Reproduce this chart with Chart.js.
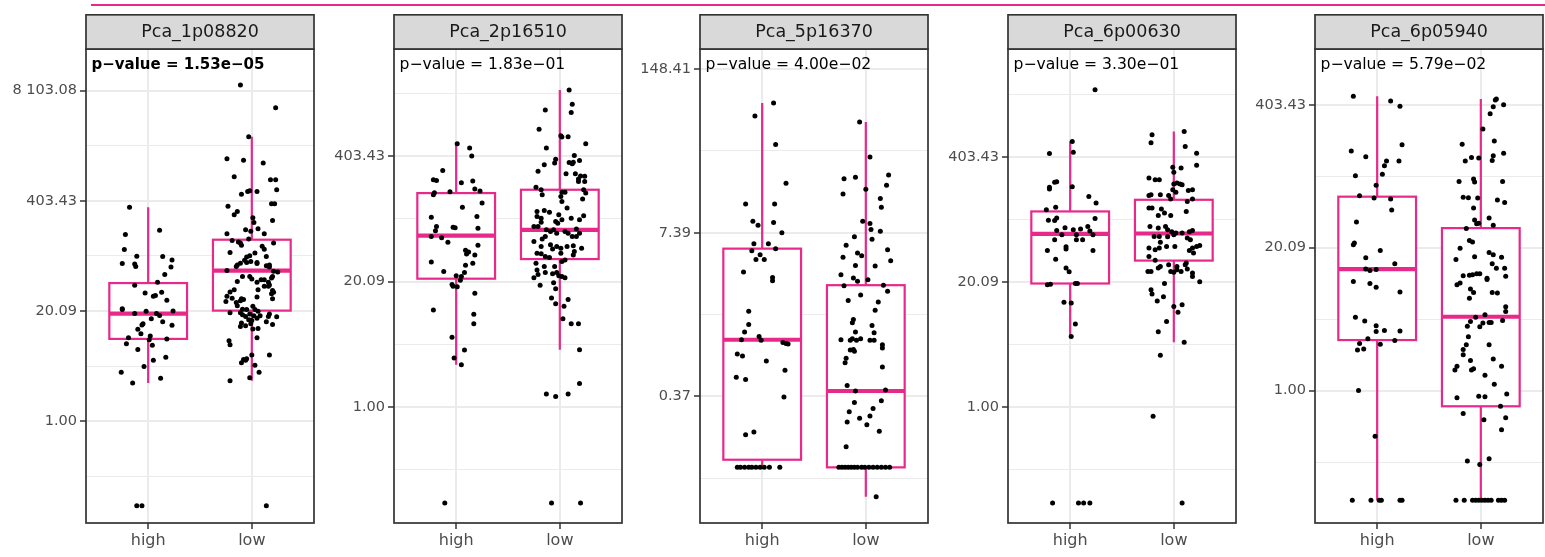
<!DOCTYPE html>
<html>
<head>
<meta charset="utf-8">
<script src="https://cdn.jsdelivr.net/npm/chart.js@4.4.1/dist/chart.umd.min.js"></script>
<style>
    html, body { margin: 0; padding: 0; background: #fff; overflow: hidden; }
    body { width: 1545px; height: 557px; position: relative; }
    #topLine { position: absolute; left: 91px; top: 3.5px; width: 1454px; height: 2.5px; background: #E7298A; }
    canvas.panel { position: absolute; top: 14px; }
</style>
</head>
<body>
<div id="topLine"></div>
<canvas id="panel0" class="panel" width="312" height="543" style="left:6px"></canvas>
<canvas id="panel1" class="panel" width="312" height="543" style="left:314px"></canvas>
<canvas id="panel2" class="panel" width="312" height="543" style="left:620px"></canvas>
<canvas id="panel3" class="panel" width="312" height="543" style="left:928px"></canvas>
<canvas id="panel4" class="panel" width="312" height="543" style="left:1235px"></canvas>
<script>
const groups = ['high', 'low'];
const genes = ['Pca_1p08820', 'Pca_2p16510', 'Pca_5p16370', 'Pca_6p00630', 'Pca_6p05940'];
const pValues = [1.53e-05, 1.83e-01, 4.00e-02, 3.30e-01, 5.79e-02];

// y axis is ln(expression); tick labels show exp(tick)
const majorTicks = [[0, 3, 6, 9], [0, 3, 6], [-1, 2, 5], [0, 3, 6], [0, 3, 6]];
const minorTicks = [[-1.5, 1.5, 4.5, 7.5], [-1.5, 1.5, 4.5, 7.5], [-2.5, 0.5, 3.5], [-1.5, 1.5, 4.5, 7.5], [-1.5, 1.5, 4.5]];
const yRanges = [[-2.77, 10.13], [-2.78, 8.57], [-3.32, 5.37], [-2.78, 8.60], [-2.78, 7.17]];

// box stats: [lower whisker, Q1, median, Q3, upper whisker]
const boxHigh = [
    [1.04, 2.24, 2.93, 3.76, 5.82],
    [1.01, 3.07, 4.10, 5.12, 6.30],
    [-2.30, -2.16, 0.04, 1.71, 4.38],
    [1.70, 2.97, 4.16, 4.70, 6.38],
    [-2.30, 1.06, 2.55, 4.07, 6.18]
];
const boxLow = [
    [1.10, 3.01, 4.10, 4.94, 7.74],
    [1.37, 3.54, 4.24, 5.20, 7.59],
    [-2.84, -2.30, -0.90, 1.04, 4.03],
    [1.56, 3.52, 4.17, 4.98, 6.62],
    [-2.30, -0.33, 1.55, 3.41, 6.12]
];

// jittered samples: [horizontal offset, ln value]
const pts1High = [[-0.18,5.82],[-0.22,5.08],[0.11,5.20],[-0.23,4.67],[-0.11,4.49],[-0.25,4.29],[-0.13,4.28],[-0.12,4.21],[0.14,4.48],[0.23,4.39],[0.22,4.20],[0.16,3.99],[0.09,3.78],[-0.13,3.70],[-0.03,3.49],[0.05,3.40],[0.07,3.42],[0.13,3.51],[0.18,3.29],[-0.25,3.06],[-0.25,3.04],[-0.13,2.93],[-0.02,2.99],[0.08,2.93],[0.11,2.88],[0.24,3.00],[0.03,2.79],[0.14,2.71],[0.23,2.61],[-0.05,2.65],[-0.06,2.62],[-0.10,2.50],[-0.07,2.38],[-0.19,2.27],[0.02,2.32],[0.01,2.22],[0.18,2.24],[-0.21,2.11],[0.04,2.07],[-0.10,1.95],[0.05,1.66],[0.17,1.74],[-0.04,1.49],[-0.26,1.33],[0.12,1.17],[-0.15,1.04],[-0.11,-2.30],[-0.06,-2.30]];
const pts1Low = [[-0.11,9.15],[0.23,8.53],[-0.03,7.74],[-0.24,7.14],[-0.08,7.10],[0.11,7.03],[-0.17,6.65],[0.18,6.57],[0.23,6.57],[0.24,6.30],[-0.04,6.25],[-0.02,6.27],[0.05,6.25],[-0.10,6.18],[0.19,5.92],[0.22,5.92],[-0.23,5.85],[-0.14,5.71],[-0.17,5.62],[0.01,5.54],[0.02,5.41],[0.20,5.46],[-0.24,5.10],[-0.19,4.92],[-0.13,4.88],[-0.10,4.79],[-0.11,4.85],[-0.06,5.21],[-0.01,5.17],[0.06,5.24],[0.12,5.10],[-0.03,4.96],[0.21,4.85],[0.10,4.76],[0.12,4.68],[-0.21,4.59],[0.03,4.58],[-0.02,4.50],[-0.05,4.47],[-0.07,4.38],[-0.05,4.32],[-0.01,4.35],[0.14,4.48],[-0.11,4.30],[-0.15,4.21],[-0.14,4.25],[0.05,4.29],[0.05,4.32],[0.14,4.23],[0.17,4.25],[0.17,4.20],[0.21,4.08],[0.25,4.06],[-0.24,4.10],[-0.09,3.94],[-0.02,3.94],[-0.14,3.80],[0.00,3.87],[0.05,3.78],[0.09,3.85],[0.12,3.85],[0.16,3.78],[0.17,3.71],[0.19,3.90],[0.20,3.94],[0.16,3.67],[0.12,3.67],[-0.17,3.58],[-0.21,3.52],[0.06,3.58],[0.20,3.56],[-0.24,3.40],[-0.25,3.26],[-0.19,3.35],[-0.11,3.28],[-0.15,3.23],[0.05,3.38],[0.20,3.33],[0.19,3.47],[0.21,3.51],[-0.08,3.31],[-0.10,3.33],[-0.14,3.14],[-0.09,3.05],[-0.05,3.04],[0.01,3.13],[0.03,3.04],[-0.21,2.95],[-0.11,2.95],[-0.09,2.90],[-0.06,2.85],[-0.02,2.92],[0.02,2.87],[0.08,2.87],[0.16,2.85],[0.24,2.84],[-0.10,2.67],[-0.06,2.60],[-0.11,2.58],[-0.03,2.76],[0.05,2.80],[0.00,2.74],[-0.01,2.65],[0.14,2.71],[0.20,2.63],[0.17,2.92],[0.06,2.99],[0.01,2.51],[0.06,2.52],[0.05,2.27],[-0.22,2.19],[-0.21,2.08],[0.17,1.80],[-0.08,1.68],[-0.05,1.70],[-0.06,1.66],[-0.10,1.59],[0.00,1.80],[0.03,1.52],[0.07,1.33],[-0.21,1.10],[-0.02,1.18],[0.14,-2.30]];
const pts2High = [[0.01,6.30],[0.13,6.20],[0.15,6.01],[-0.13,5.66],[-0.22,5.44],[-0.19,5.42],[0.05,5.37],[0.16,5.41],[0.18,5.22],[0.23,5.17],[-0.21,5.13],[-0.22,5.08],[-0.06,5.15],[0.25,4.88],[0.06,4.78],[0.20,4.56],[-0.24,4.54],[-0.03,4.30],[-0.01,4.29],[-0.19,4.32],[-0.20,4.22],[0.21,4.28],[-0.24,4.08],[-0.14,4.05],[-0.08,3.94],[0.21,3.87],[0.09,3.75],[0.12,3.71],[0.10,3.66],[0.18,3.64],[0.16,3.44],[0.09,3.39],[-0.24,3.47],[-0.12,3.24],[0.00,3.14],[0.05,3.12],[0.08,3.22],[-0.04,2.93],[-0.03,2.89],[0.01,2.88],[0.04,3.03],[0.18,2.72],[-0.22,2.32],[0.17,2.22],[0.17,1.99],[-0.04,1.67],[0.08,1.36],[-0.02,1.17],[0.05,1.01],[-0.11,-2.30]];
const pts2Low = [[0.09,7.59],[0.12,7.25],[0.11,7.05],[-0.14,7.11],[-0.20,6.65],[0.01,6.49],[0.02,6.46],[0.08,6.47],[-0.13,6.20],[0.25,6.30],[0.14,6.02],[-0.04,5.93],[-0.05,5.84],[-0.15,5.80],[0.09,5.85],[0.13,5.86],[0.12,5.82],[0.19,5.90],[-0.21,5.64],[0.15,5.58],[0.20,5.53],[0.24,5.52],[0.18,5.40],[0.24,5.40],[0.18,5.46],[0.06,5.58],[-0.23,5.26],[-0.18,5.20],[0.02,5.14],[0.05,5.14],[-0.17,5.08],[0.23,5.20],[0.25,5.12],[0.01,5.04],[0.02,4.92],[0.22,4.98],[0.07,4.76],[-0.22,4.68],[-0.15,4.70],[-0.10,4.66],[-0.22,4.56],[-0.18,4.52],[0.23,4.58],[0.19,4.48],[-0.01,4.60],[0.02,4.48],[0.11,4.52],[-0.18,4.42],[-0.04,4.44],[-0.02,4.40],[-0.25,4.32],[-0.21,4.32],[-0.13,4.24],[-0.09,4.20],[-0.06,4.24],[-0.03,4.16],[0.05,4.20],[0.08,4.16],[0.16,4.26],[0.19,4.16],[0.12,4.08],[0.16,4.08],[-0.25,3.96],[-0.17,4.02],[-0.14,4.08],[-0.18,3.84],[-0.09,3.88],[-0.07,3.78],[-0.03,3.84],[0.01,3.80],[0.07,3.84],[0.13,3.86],[0.14,3.72],[0.21,3.80],[-0.22,3.68],[-0.18,3.67],[-0.14,3.60],[-0.10,3.58],[0.01,3.68],[0.13,3.64],[0.05,3.52],[0.02,3.48],[-0.23,3.44],[-0.22,3.28],[-0.15,3.36],[-0.14,3.22],[-0.05,3.36],[-0.03,3.22],[0.02,3.12],[0.05,3.09],[-0.21,3.17],[-0.25,3.09],[-0.19,2.91],[-0.07,3.19],[-0.01,3.14],[-0.06,2.97],[-0.04,2.83],[-0.08,2.61],[-0.04,2.47],[0.04,2.41],[0.08,2.57],[0.03,2.11],[0.11,1.99],[0.18,1.99],[0.19,1.37],[0.19,0.56],[-0.13,0.31],[-0.04,0.25],[0.08,0.31],[-0.08,-2.30],[0.20,-2.30]];
const pts3High = [[0.11,4.38],[-0.07,4.14],[0.13,3.62],[0.23,2.91],[-0.16,2.53],[0.12,2.53],[-0.09,2.21],[-0.04,2.14],[0.11,2.19],[0.19,2.00],[-0.08,1.80],[0.06,1.80],[-0.10,1.67],[0.13,1.71],[-0.02,1.60],[-0.06,1.51],[0.02,1.51],[-0.18,1.28],[0.10,1.18],[0.10,1.12],[-0.13,0.56],[-0.13,0.32],[-0.17,0.18],[-0.20,0.04],[-0.03,0.10],[-0.01,0.03],[0.20,-0.01],[0.23,-0.03],[0.25,-0.04],[-0.24,-0.22],[-0.19,-0.26],[0.04,-0.35],[0.22,-0.52],[-0.25,-0.65],[-0.16,-0.69],[0.21,-1.01],[-0.16,-1.70],[-0.08,-1.65],[-0.24,-2.30],[-0.21,-2.30],[-0.17,-2.30],[-0.13,-2.30],[-0.10,-2.30],[-0.06,-2.30],[-0.02,-2.30],[0.02,-2.30],[0.07,-2.30],[0.17,-2.30]];
const pts3Low = [[-0.06,4.03],[0.04,3.39],[0.22,3.06],[0.20,2.87],[-0.21,2.99],[-0.10,3.02],[-0.22,2.71],[0.00,2.80],[0.14,2.63],[0.15,2.47],[-0.03,2.21],[0.04,2.17],[0.05,2.06],[0.14,2.03],[-0.11,1.93],[0.06,1.88],[-0.19,1.77],[-0.08,1.63],[-0.04,1.58],[0.21,1.69],[-0.22,1.55],[-0.10,1.40],[0.09,1.39],[0.24,1.49],[-0.24,1.23],[-0.12,1.17],[-0.08,1.11],[0.02,1.14],[-0.21,1.03],[0.17,1.04],[0.21,0.93],[-0.05,0.86],[-0.17,0.76],[0.12,0.73],[0.09,0.58],[-0.12,0.41],[-0.13,0.35],[0.06,0.30],[-0.10,0.18],[0.08,0.17],[-0.24,0.04],[-0.15,0.03],[-0.13,0.06],[-0.09,0.03],[-0.05,0.06],[0.04,0.03],[0.08,0.03],[0.16,-0.05],[0.16,-0.11],[-0.15,-0.15],[-0.12,-0.14],[-0.11,-0.17],[-0.19,-0.30],[-0.20,-0.38],[0.16,-0.46],[-0.18,-0.80],[-0.10,-0.90],[0.19,-0.88],[-0.11,-1.11],[0.15,-1.08],[0.07,-1.22],[0.04,-1.36],[-0.16,-1.28],[-0.18,-1.47],[-0.06,-1.40],[0.01,-1.52],[0.13,-1.64],[-0.19,-1.92],[-0.26,-2.30],[-0.23,-2.30],[-0.20,-2.30],[-0.17,-2.30],[-0.14,-2.30],[-0.11,-2.30],[-0.08,-2.30],[-0.04,-2.30],[-0.01,-2.30],[0.03,-2.30],[0.07,-2.30],[0.11,-2.30],[0.15,-2.30],[0.19,-2.30],[0.23,-2.30],[0.10,-2.84]];
const pts4High = [[0.24,7.62],[0.02,6.38],[-0.20,6.09],[0.03,6.12],[-0.15,5.40],[-0.13,5.41],[-0.20,5.28],[-0.20,5.24],[0.02,5.29],[0.18,5.06],[0.25,4.90],[-0.23,4.74],[-0.14,4.80],[-0.21,4.49],[-0.15,4.48],[-0.13,4.54],[0.24,4.53],[-0.05,4.31],[-0.13,4.24],[0.03,4.26],[0.10,4.28],[0.17,4.34],[0.19,4.23],[0.06,4.14],[-0.08,4.14],[0.22,4.14],[-0.15,4.02],[0.06,4.02],[0.12,4.02],[-0.22,3.76],[-0.04,3.85],[-0.04,3.80],[0.22,3.76],[-0.14,3.55],[-0.04,3.34],[-0.01,3.25],[-0.22,2.94],[-0.19,2.95],[0.05,2.97],[0.07,2.97],[-0.06,2.52],[0.01,2.50],[0.05,2.00],[0.01,1.70],[-0.17,-2.30],[0.08,-2.30],[0.13,-2.30],[0.19,-2.30]];
const pts4Low = [[0.10,6.62],[-0.21,6.54],[-0.22,6.35],[0.11,6.26],[0.22,6.10],[0.22,5.81],[-0.01,5.76],[0.00,5.64],[0.07,5.74],[-0.24,5.50],[-0.18,5.46],[-0.14,5.46],[0.00,5.36],[0.03,5.38],[0.06,5.36],[0.08,5.34],[0.18,5.22],[0.14,5.20],[0.02,5.16],[-0.01,5.22],[-0.24,5.08],[-0.22,5.10],[-0.13,5.10],[-0.05,5.08],[-0.03,5.00],[0.13,4.94],[0.18,5.00],[-0.24,4.78],[-0.21,4.78],[-0.12,4.76],[-0.09,4.66],[-0.15,4.60],[-0.03,4.60],[0.12,4.70],[-0.23,4.34],[-0.15,4.30],[-0.08,4.34],[-0.06,4.26],[-0.02,4.21],[0.02,4.18],[0.08,4.18],[0.15,4.21],[0.18,4.24],[-0.19,4.10],[-0.14,4.10],[-0.06,4.09],[0.00,4.14],[0.16,4.02],[0.13,4.06],[-0.13,3.96],[-0.07,3.86],[0.01,3.86],[-0.24,3.82],[-0.18,3.78],[-0.14,3.82],[0.18,3.82],[0.22,3.86],[0.25,3.88],[0.15,3.76],[0.19,3.70],[-0.24,3.62],[-0.18,3.53],[-0.05,3.42],[0.03,3.38],[0.11,3.42],[-0.15,3.34],[-0.13,3.38],[0.03,3.30],[0.13,3.32],[0.18,3.22],[0.12,3.46],[-0.25,3.26],[-0.22,3.26],[-0.03,3.26],[0.00,3.24],[0.07,3.26],[0.18,3.14],[0.25,3.01],[-0.09,2.97],[-0.22,2.82],[-0.21,2.72],[-0.10,2.65],[-0.16,2.55],[0.00,2.42],[0.08,2.46],[0.04,2.28],[-0.07,2.06],[-0.15,1.81],[0.10,1.56],[-0.13,1.25],[-0.20,-0.22],[0.08,-2.30]];
const pts5High = [[-0.23,6.18],[0.13,6.08],[0.22,5.97],[-0.25,5.03],[-0.11,4.91],[0.24,5.16],[0.07,4.72],[0.09,4.82],[0.21,4.82],[-0.21,4.51],[0.05,4.54],[-0.01,4.31],[-0.17,4.09],[-0.03,4.04],[0.13,4.02],[0.14,3.79],[-0.20,3.54],[-0.23,3.06],[-0.22,3.10],[0.03,2.94],[-0.11,2.79],[0.17,2.66],[-0.11,2.55],[-0.07,2.52],[-0.01,2.54],[-0.23,2.29],[-0.07,2.25],[-0.01,2.17],[0.22,2.07],[-0.21,1.54],[-0.12,1.46],[-0.01,1.36],[-0.01,1.24],[0.07,1.26],[0.22,1.25],[-0.17,0.99],[-0.09,1.09],[-0.19,0.85],[-0.13,0.87],[0.03,0.97],[0.17,1.05],[-0.18,0.00],[-0.02,-0.96],[-0.24,-2.30],[-0.06,-2.30],[0.02,-2.30],[0.04,-2.30],[0.22,-2.30],[0.24,-2.30]];
const pts5Low = [[0.15,6.12],[0.14,6.10],[0.12,5.96],[0.09,5.81],[0.22,6.00],[0.02,5.49],[-0.18,5.17],[0.13,5.24],[-0.09,4.89],[-0.15,4.82],[-0.02,4.88],[0.12,4.93],[0.11,4.83],[0.22,4.98],[-0.21,4.39],[-0.07,4.44],[-0.06,4.38],[0.21,4.39],[-0.17,4.06],[-0.12,4.05],[-0.03,4.04],[0.16,4.00],[0.23,3.95],[-0.07,3.83],[-0.06,3.58],[-0.04,3.50],[-0.02,3.51],[0.08,3.62],[0.12,3.47],[-0.14,3.40],[-0.11,3.15],[-0.08,3.12],[-0.20,2.99],[-0.24,2.75],[-0.06,2.81],[0.08,2.90],[0.12,2.85],[0.20,2.80],[0.11,2.66],[0.15,2.57],[0.23,2.57],[-0.17,2.41],[-0.08,2.43],[-0.04,2.45],[-0.01,2.45],[0.06,2.36],[0.24,2.40],[-0.11,2.42],[-0.23,2.22],[-0.20,2.26],[0.06,2.33],[-0.10,2.13],[-0.07,2.06],[0.11,2.06],[0.16,2.05],[-0.11,1.94],[0.24,1.76],[0.24,1.66],[-0.05,1.54],[-0.10,1.45],[-0.13,1.35],[0.04,1.59],[0.02,1.42],[-0.01,1.34],[0.08,1.43],[0.10,1.43],[0.21,1.47],[-0.12,1.13],[-0.14,0.96],[-0.17,0.86],[-0.17,0.75],[0.08,0.96],[-0.10,0.63],[0.12,0.66],[-0.23,0.51],[-0.25,0.43],[-0.09,0.43],[-0.07,0.46],[0.20,0.51],[0.04,0.32],[0.13,0.13],[-0.23,-0.15],[-0.02,-0.12],[0.04,-0.13],[0.25,-0.07],[0.19,-0.33],[-0.17,-0.48],[0.03,-0.61],[0.24,-0.57],[0.20,-0.82],[-0.13,-1.48],[-0.01,-1.55],[0.08,-1.43],[-0.24,-2.30],[-0.16,-2.30],[-0.08,-2.30],[-0.05,-2.30],[-0.02,-2.30],[0.01,-2.30],[0.04,-2.30],[0.07,-2.30],[0.10,-2.30],[0.17,-2.30],[0.20,-2.30],[0.23,-2.30]];

const panelPoints = [
    [pts1High, pts1Low],
    [pts2High, pts2Low],
    [pts3High, pts3Low],
    [pts4High, pts4Low],
    [pts5High, pts5Low]
];

const PINK = '#E7298A';
const GRID = '#EBEBEB';
const DARK = '#333333';
const BOX_HALF = 0.375;

Chart.defaults.font.family = "'DejaVu Sans', sans-serif";

document.addEventListener('DOMContentLoaded', () => {
    genes.forEach((gene, i) => initializePanel(i));
});

function formatTick(v) {
    const s = Math.exp(v).toFixed(2);
    const [intPart, dec] = s.split('.');
    return intPart.replace(/\B(?=(\d{3})+(?!\d))/g, ' ') + '.' + dec;
}

function formatPValue(p) {
    const [mant, exp] = p.toExponential(2).split('e');
    const n = parseInt(exp, 10);
    const sign = n < 0 ? '\u2212' : '+';
    return mant + 'e' + sign + String(Math.abs(n)).padStart(2, '0');
}

const boxPlotPlugin = {
    id: 'boxPlot',
    beforeDatasetsDraw(chart) {
        const idx = chart.options.plugins.panelInfo.index;
        const { ctx, scales: { x, y } } = chart;
        [boxHigh[idx], boxLow[idx]].forEach((stats, g) => {
            const cx = g + 1;
            const left = x.getPixelForValue(cx - BOX_HALF);
            const right = x.getPixelForValue(cx + BOX_HALF);
            const mid = x.getPixelForValue(cx);
            const [lo, q1, med, q3, hi] = stats.map(v => y.getPixelForValue(v));
            ctx.save();
            ctx.strokeStyle = PINK;
            ctx.lineWidth = 2.2;
            ctx.beginPath();
            ctx.moveTo(mid, q3); ctx.lineTo(mid, hi);
            ctx.moveTo(mid, q1); ctx.lineTo(mid, lo);
            ctx.stroke();
            ctx.fillStyle = '#fff';
            ctx.fillRect(left, q3, right - left, q1 - q3);
            ctx.lineWidth = 2.2;
            ctx.strokeRect(left, q3, right - left, q1 - q3);
            ctx.lineWidth = 4.2;
            ctx.beginPath();
            ctx.moveTo(left, med); ctx.lineTo(right, med);
            ctx.stroke();
            ctx.restore();
        });
    }
};

const panelFramePlugin = {
    id: 'panelFrame',
    afterDraw(chart) {
        const idx = chart.options.plugins.panelInfo.index;
        const { ctx, chartArea: a } = chart;
        ctx.save();
        // panel border
        ctx.strokeStyle = DARK;
        ctx.lineWidth = 1.7;
        ctx.strokeRect(a.left, a.top, a.right - a.left, a.bottom - a.top);
        // strip
        ctx.fillStyle = '#D9D9D9';
        ctx.fillRect(a.left, 0.8, a.right - a.left, a.top - 0.8);
        ctx.strokeRect(a.left, 0.8, a.right - a.left, a.top - 0.8);
        ctx.fillStyle = '#1A1A1A';
        ctx.font = "17.5px 'DejaVu Sans'";
        ctx.textAlign = 'center';
        ctx.textBaseline = 'middle';
        ctx.fillText(genes[idx], (a.left + a.right) / 2, a.top / 2 + 0.5);
        // p-value label
        const bold = pValues[idx] < 0.01;
        ctx.fillStyle = '#000';
        ctx.font = bold ? "bold 15px 'DejaVu Sans'" : "15.6px 'DejaVu Sans'";
        ctx.textAlign = 'left';
        ctx.fillText('p\u2212value = ' + formatPValue(pValues[idx]), a.left + 5.5, a.top + 16);
        ctx.restore();
    }
};

function initializePanel(i) {
    const ctx = document.getElementById('panel' + i).getContext('2d');
    const majors = majorTicks[i];
    const [yMin, yMax] = yRanges[i];
    const isMajor = v => majors.some(m => Math.abs(m - v) < 1e-9);

    new Chart(ctx, {
        type: 'scatter',
        data: {
            datasets: panelPoints[i].map((pts, g) => ({
                label: groups[g],
                data: pts.map(([dx, v]) => ({ x: g + 1 + dx, y: v })),
                pointRadius: 2.5,
                pointBackgroundColor: '#000',
                pointBorderWidth: 0
            }))
        },
        options: {
            responsive: false,
            animation: false,
            devicePixelRatio: 1,
            events: [],
            layout: { padding: { top: 35, left: 0, right: 0, bottom: 0 } },
            plugins: {
                legend: { display: false },
                tooltip: { enabled: false },
                panelInfo: { index: i }
            },
            scales: {
                x: {
                    type: 'linear',
                    min: 0.4,
                    max: 2.6,
                    afterBuildTicks: scale => { scale.ticks = [{ value: 1 }, { value: 2 }]; },
                    afterFit: scale => { scale.height = 34; },
                    ticks: {
                        callback: v => groups[Math.round(v) - 1],
                        color: '#4D4D4D',
                        font: { size: 16 },
                        padding: 2,
                        maxRotation: 0,
                        autoSkip: false
                    },
                    grid: { color: GRID, lineWidth: 2, tickLength: 6, tickColor: DARK, tickWidth: 1.5 },
                    border: { display: false }
                },
                y: {
                    type: 'linear',
                    min: yMin,
                    max: yMax,
                    afterBuildTicks: scale => {
                        scale.ticks = majors.concat(minorTicks[i])
                            .filter(v => v >= yMin && v <= yMax)
                            .sort((a, b) => a - b)
                            .map(v => ({ value: v }));
                    },
                    afterFit: scale => { scale.width = 80; },
                    ticks: {
                        callback: v => isMajor(v) ? formatTick(v) : '',
                        color: '#4D4D4D',
                        font: { size: 14.5 },
                        padding: 3,
                        autoSkip: false
                    },
                    grid: {
                        color: GRID,
                        lineWidth: c => (c.tick && isMajor(c.tick.value)) ? 2 : 1,
                        tickLength: 6,
                        tickColor: c => (c.tick && isMajor(c.tick.value)) ? DARK : 'rgba(0,0,0,0)',
                        tickWidth: 1.5
                    },
                    border: { display: false }
                }
            }
        },
        plugins: [boxPlotPlugin, panelFramePlugin]
    });
}
</script>
</body>
</html>
